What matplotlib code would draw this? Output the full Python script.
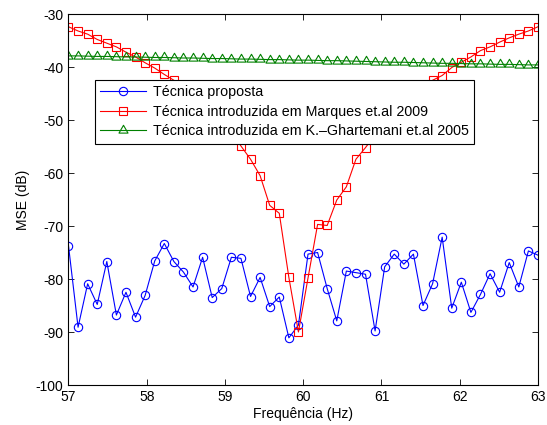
import numpy as np
import matplotlib
matplotlib.use('Agg')
import matplotlib.pyplot as plt
from matplotlib.path import Path

plt.rcParams['font.family'] = ['Liberation Sans', 'DejaVu Sans']
plt.rcParams['axes.unicode_minus'] = False

# frequency grid (50 samples between 57 and 63 Hz)
freq = np.linspace(57, 63, 50)

mse_proposta = [-73.7, -89.1, -80.9, -84.8, -76.7, -86.8, -82.5, -87.2, -83.1, -76.6,
                -73.3, -76.7, -78.7, -81.5, -75.9, -83.5, -81.8, -75.9, -76.1, -83.3,
                -79.7, -85.2, -83.4, -91.1, -88.7, -75.3, -75.0, -81.8, -87.9, -78.5,
                -78.8, -79.1, -89.8, -77.7, -75.3, -77.2, -75.3, -85.0, -80.9, -72.1,
                -85.5, -80.6, -86.3, -82.9, -79.0, -82.5, -76.9, -81.5, -74.7, -75.5]

mse_marques = [-32.4, -33.2, -33.8, -34.8, -35.5, -36.2, -37.2, -38.1, -39.2, -40.2,
               -41.4, -42.5, -43.7, -45.0, -46.5, -48.2, -50.2, -52.4, -54.9, -57.4,
               -60.5, -66.1, -67.6, -79.7, -90.0, -79.8, -69.7, -69.9, -65.1, -62.6,
               -57.4, -55.2, -52.8, -50.6, -48.6, -46.8, -45.2, -43.8, -42.5, -41.6,
               -40.1, -39.1, -38.1, -36.9, -36.2, -35.3, -34.5, -33.8, -33.2, -32.4]

mse_ghartemani = [-37.9, -37.9, -37.95, -38.0, -38.0, -38.05, -38.1, -38.1, -38.15, -38.2,
                  -38.2, -38.25, -38.3, -38.3, -38.35, -38.4, -38.4, -38.45, -38.5, -38.5,
                  -38.55, -38.6, -38.6, -38.65, -38.7, -38.7, -38.75, -38.8, -38.8, -38.85,
                  -38.9, -38.95, -39.0, -39.05, -39.1, -39.1, -39.15, -39.2, -39.25, -39.3,
                  -39.3, -39.35, -39.4, -39.4, -39.45, -39.5, -39.5, -39.55, -39.6, -39.6]

labels = ['Técnica proposta',
          'Técnica introduzida em Marques et.al 2009',
          'Técnica introduzida em K.\u2013Ghartemani et.al 2005']

# triangle centred on its circumcentre, like the matlab '^' marker
tri = Path([(0, 1), (-0.866, -0.5), (0.866, -0.5), (0, 1)],
           [Path.MOVETO, Path.LINETO, Path.LINETO, Path.CLOSEPOLY])

fig = plt.figure(figsize=(5.47, 4.25), dpi=100)
ax = fig.add_axes([0.1252, 0.0941, 0.8583, 0.8729])

lw = 0.8
ax.plot(freq, mse_proposta, color='b', marker='o', ms=6, mfc='none', mew=lw, lw=lw, label=labels[0])
ax.plot(freq, mse_marques, color='r', marker='s', ms=5.5, mfc='none', mew=lw, lw=lw, label=labels[1])
ax.plot(freq, mse_ghartemani, color=(0, 0.5, 0), marker=tri, ms=7.5, mfc='none', mew=lw, lw=lw,
        label=labels[2])

ax.set_xlim(57, 63)
ax.set_ylim(-100, -30)
ax.set_xticks(np.arange(57, 64, 1))
ax.set_yticks(np.arange(-100, -29, 10))
ax.tick_params(direction='in', top=True, right=True, length=4, width=0.6, labelsize=10)
for s in ax.spines.values():
    s.set_linewidth(0.8)

ax.set_xlabel('Frequência (Hz)', fontsize=10, labelpad=2)
ax.set_ylabel('MSE (dB)', fontsize=10, labelpad=4)

leg = ax.legend(loc='upper left', bbox_to_anchor=(0.0564, 0.822), borderaxespad=0,
                fontsize=10.3, fancybox=False, framealpha=1, edgecolor='k',
                handlelength=3.2, labelspacing=0.38, borderpad=0.38, handletextpad=0.45)
leg.get_frame().set_linewidth(0.8)

fig.savefig('out.png', dpi=100)
